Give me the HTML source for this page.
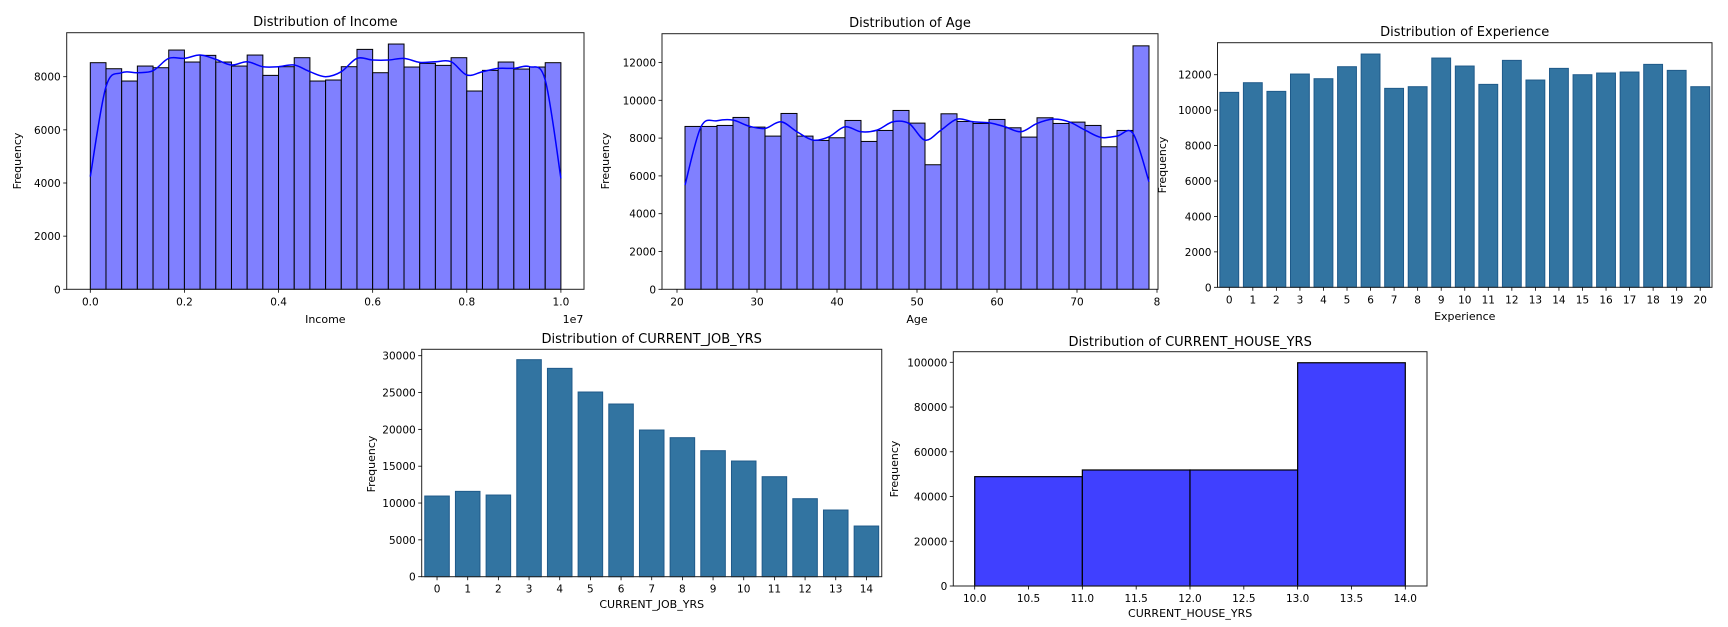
<!DOCTYPE html>
<html><head><meta charset="utf-8">
<style>
html,body{margin:0;padding:0;background:#fff;}
svg{display:block;font-family:"DejaVu Sans","Liberation Sans",sans-serif;}
</style></head>
<body>
<svg id="fig" width="1728" height="627" viewBox="0 0 1728 627" xmlns="http://www.w3.org/2000/svg"></svg>
<script>
// ---- data ----
const incomeBins = [8527,8300,7837,8401,8338,9003,8552,8803,8552,8401,8815,8050,8376,8715,7837,7875,8376,9028,8150,9229,8364,8502,8426,8715,7461,8238,8552,8288,8364,8527];
const incomeKde = [4238,7624,8150,8150,8226,8690,8690,8815,8652,8439,8564,8376,8376,8439,8188,8000,8188,8690,8627,8627,8690,8540,8564,8564,8063,8188,8313,8313,8376,7875,4175];
const incomeXTicks = ["0.0","0.2","0.4","0.6","0.8","1.0"];
const incomeYTicks = [0,2000,4000,6000,8000];

const ageBins = [8617,8617,8670,9093,8582,8106,9304,8106,7877,8018,8934,7824,8405,9463,8793,6590,9286,8881,8775,8987,8546,8053,9075,8775,8846,8670,7542,8405,12881];
const ageKde = [5515,8599,8916,8951,8634,8511,8863,8335,7894,8070,8599,8335,8423,8863,8775,7894,8423,9004,8863,8810,8599,8335,8775,9004,8863,8423,8035,8106,8247,5691];
const ageXTicks = [20,30,40,50,60,70,80];
const ageYTicks = [0,2000,4000,6000,8000,10000,12000];

const expCats = ["0","1","2","3","4","5","6","7","8","9","10","11","12","13","14","15","16","17","18","19","20"];
const expVals = [11004,11549,11060,12038,11775,12452,13167,11230,11324,12941,12490,11455,12810,11700,12358,12000,12095,12151,12584,12245,11324];
const expYTicks = [0,2000,4000,6000,8000,10000,12000];

const jobCats = ["0","1","2","3","4","5","6","7","8","9","10","11","12","13","14"];
const jobVals = [10950,11584,11086,29458,28281,25069,23440,19910,18870,17105,15702,13575,10588,9050,6878];
const jobYTicks = [0,5000,10000,15000,20000,25000,30000];

const houseEdges = [10,11,12,13,14];
const houseVals = [48882,51863,51863,99800];
const houseXTicks = ["10.0","10.5","11.0","11.5","12.0","12.5","13.0","13.5","14.0"];
const houseYTicks = [0,20000,40000,60000,80000,100000];

// ---- helpers ----
const NS="http://www.w3.org/2000/svg";
const svg=document.getElementById('fig');
function mk(tag,attrs,parent){const e=document.createElementNS(NS,tag);for(const k in attrs)e.setAttribute(k,attrs[k]);(parent||svg).appendChild(e);return e;}
function txt(s,x,y,size,anchor,parent,rot){const t=mk('text',{x:x,y:y,'font-size':size,'text-anchor':anchor||'middle',fill:'#000'},parent);if(rot)t.setAttribute('transform','rotate(-90 '+x+' '+y+')');t.textContent=s;return t;}

function axesFrame(g,L,R,T,B){
  mk('rect',{x:L,y:T,width:R-L,height:B-T,fill:'none',stroke:'#222','stroke-width':1},g);
}
function yAxis(g,L,ys,ticks,name){
  ticks.forEach(v=>{const y=ys(v);
    const tk=mk('line',{x1:L-3.5,x2:L,y1:y,y2:y,stroke:'#000','stroke-width':0.8},g);
    
    
    const t=txt(String(v),L-6,y+4,10.5,'end',g);
    
    
  });
}
function xTick(g,x,B,label,name){
  const tk=mk('line',{x1:x,x2:x,y1:B,y2:B+3.5,stroke:'#000','stroke-width':0.8},g);
  
  
  const t=txt(label,x,B+16,10.5,'middle',g);
  
  
}
function smoothPath(pts){
  let d='M'+pts[0][0]+','+pts[0][1];
  for(let i=0;i<pts.length-1;i++){
    const p0=pts[Math.max(0,i-1)],p1=pts[i],p2=pts[i+1],p3=pts[Math.min(pts.length-1,i+2)];
    const c1x=p1[0]+(p2[0]-p0[0])/6,c1y=p1[1]+(p2[1]-p0[1])/6;
    const c2x=p2[0]-(p3[0]-p1[0])/6,c2y=p2[1]-(p3[1]-p1[1])/6;
    d+=' C'+c1x+','+c1y+' '+c2x+','+c2y+' '+p2[0]+','+p2[1];
  }
  return d;
}
function group(name){const g=mk('g',{});return g;}

// ---- Income ----
(function(){
  const g=group('income-chart');
  const L=66.7,R=584,T=32.7,B=289.3;
  const xs=v=>90.3+470.6*v, ys=v=>B-v*0.026575;
  incomeBins.forEach((v,i)=>{
    const x0=xs(i/30),x1=xs((i+1)/30);
    const r=mk('rect',{x:x0,y:ys(v),width:x1-x0,height:B-ys(v),fill:'#8080ff',stroke:'#000','stroke-width':1},g);
    
    
  });
  const pts=incomeKde.map((v,i)=>[xs(i/30),ys(v)]);
  const p=mk('path',{d:smoothPath(pts),fill:'none',stroke:'#0000ff','stroke-width':1.5},g);
  
  
  axesFrame(g,L,R,T,B);
  yAxis(g,L,ys,incomeYTicks,'income');
  incomeXTicks.forEach((s,i)=>xTick(g,xs(i*0.2),B,s,'income'));
  const t=txt('Distribution of Income',(L+R)/2,26,13,'middle',g);
  const xl=txt('Income',(L+R)/2,323,11,'middle',g);
  const oe=txt('1e7',573,323,11,'middle',g);
  const yl=txt('Frequency',21,161,11,'middle',g,true);
})();

// ---- Age ----
(function(){
  const g=group('age-chart');
  const L=662,R=1158,T=33.7,B=289.3;
  const xs=v=>677+(v-20)*8.0, ys=v=>B-v*0.0189;
  ageBins.forEach((v,i)=>{
    const x0=xs(21+2*i),x1=xs(23+2*i);
    const r=mk('rect',{x:x0,y:ys(v),width:x1-x0,height:B-ys(v),fill:'#8080ff',stroke:'#000','stroke-width':1},g);
    
    
  });
  const pts=ageKde.map((v,i)=>[xs(21+2*i),ys(v)]);
  const p=mk('path',{d:smoothPath(pts),fill:'none',stroke:'#0000ff','stroke-width':1.5},g);
  
  
  axesFrame(g,L,R,T,B);
  yAxis(g,L,ys,ageYTicks,'age');
  ageXTicks.forEach(v=>xTick(g,xs(v),B,v===80?'8':String(v),'age'));
  const t=txt('Distribution of Age',(L+R)/2,27,13,'middle',g);
  const xl=txt('Age',917,323,11,'middle',g);
  const yl=txt('Frequency',609,161,11,'middle',g,true);
})();

// ---- Experience ----
(function(){
  const g=group('experience-chart');
  const L=1217.5,R=1712,T=42.7,B=287.3;
  const band=(R-L)/expCats.length;
  const xs=i=>L+band*(i+0.5), ys=v=>B-v*0.017715;
  expVals.forEach((v,i)=>{
    const r=mk('rect',{x:xs(i)-band*0.4,y:ys(v),width:band*0.8,height:B-ys(v),fill:'#3274a1',stroke:'#1f5a8a','stroke-width':1},g);
    
    
  });
  axesFrame(g,L,R,T,B);
  yAxis(g,L,ys,expYTicks,'experience');
  expCats.forEach((c,i)=>xTick(g,xs(i),B,c,'experience'));
  const t=txt('Distribution of Experience',(L+R)/2,36,13,'middle',g);
  const xl=txt('Experience',(L+R)/2,320,11,'middle',g);
  const yl=txt('Frequency',1166,165,11,'middle',g,true);
})();

// ---- Current job years ----
(function(){
  const g=group('current-job-yrs-chart');
  const L=421.7,T=349.3,B=576.7;
  const band=30.67,R=L+band*jobCats.length;
  const xs=i=>L+band*(i+0.5), ys=v=>B-v*0.007367;
  jobVals.forEach((v,i)=>{
    const r=mk('rect',{x:xs(i)-band*0.4,y:ys(v),width:band*0.8,height:B-ys(v),fill:'#3274a1',stroke:'#1f5a8a','stroke-width':1},g);
    
    
  });
  axesFrame(g,L,R,T,B);
  yAxis(g,L,ys,jobYTicks,'current-job-yrs');
  jobCats.forEach((c,i)=>xTick(g,xs(i),B,c,'current-job-yrs'));
  const t=txt('Distribution of CURRENT_JOB_YRS',(L+R)/2,343,13,'middle',g);
  const xl=txt('CURRENT_JOB_YRS',(L+R)/2,608,11,'middle',g);
  const yl=txt('Frequency',375,464,11,'middle',g,true);
})();

// ---- Current house years ----
(function(){
  const g=group('current-house-yrs-chart');
  const L=953.3,R=1427,T=351.7,B=586;
  const xs=v=>974.7+(v-10)*107.65, ys=v=>B-v*0.002237;
  houseVals.forEach((v,i)=>{
    const x0=xs(houseEdges[i]),x1=xs(houseEdges[i+1]);
    const r=mk('rect',{x:x0,y:ys(v),width:x1-x0,height:B-ys(v),fill:'#4040ff',stroke:'#000','stroke-width':1.2},g);
    
    
  });
  axesFrame(g,L,R,T,B);
  yAxis(g,L,ys,houseYTicks,'current-house-yrs');
  houseXTicks.forEach(s=>xTick(g,xs(parseFloat(s)),B,s,'current-house-yrs'));
  const t=txt('Distribution of CURRENT_HOUSE_YRS',(L+R)/2,346,13,'middle',g);
  const xl=txt('CURRENT_HOUSE_YRS',(L+R)/2,617,11,'middle',g);
  const yl=txt('Frequency',898,469,11,'middle',g,true);
})();
</script>
</body></html>
